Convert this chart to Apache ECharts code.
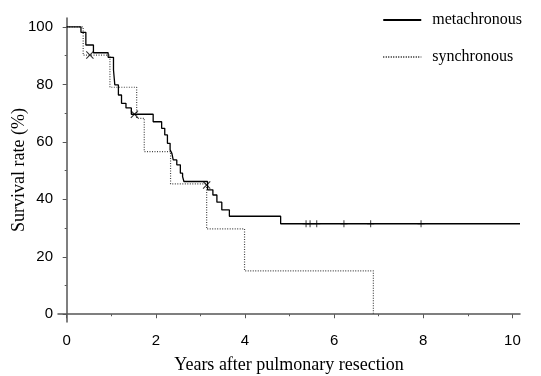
<!DOCTYPE html>
<html>
<head>
<meta charset="utf-8">
<script src="https://cdn.jsdelivr.net/npm/echarts@6/dist/echarts.min.js"></script>
<style>
  html, body { margin: 0; padding: 0; background: #fff; }
  #chartmain { width: 541px; height: 376px; }
</style>
</head>
<body>
<div id="chartmain"></div>
<script>
// metachronous group: time of each step (years) and survival after it (%)
var metaTimes = [0, 0.32, 0.43, 0.60, 0.93, 1.05, 1.08, 1.16, 1.23, 1.33, 1.45, 1.94, 2.13, 2.20, 2.26, 2.32, 2.36, 2.39, 2.47, 2.55, 2.60, 2.63, 3.16, 3.28, 3.37, 3.48, 3.65, 4.80, 10.17];
var metaSurv  = [100, 98.1, 93.7, 91.0, 89.4, 85.0, 79.8, 76.3, 73.4, 71.8, 69.6, 67.0, 64.7, 62.4, 59.5, 57.2, 56.0, 53.7, 52.0, 49.1, 47.9, 46.2, 43.3, 41.5, 39.0, 36.3, 34.1, 31.5, 31.5];

// synchronous group
var syncTimes = [0, 0.37, 0.97, 1.57, 1.74, 2.33, 3.14, 3.99, 6.88];
var syncSurv  = [100, 90.2, 79.0, 68.2, 56.6, 45.4, 29.7, 15.1, 0];

// censor marks
var crossT = [0.52, 1.52, 3.14];
var crossS = [90.2, 69.6, 45.0];
var plusT = [5.37, 5.46, 5.61, 6.22, 6.82, 7.95];
var plusS = [31.5, 31.5, 31.5, 31.5, 31.5, 31.5];

var xTicks = [0, 2, 4, 6, 8, 10];
var xMinor = [1, 3, 5, 7, 9];
var yTicks = [0, 20, 40, 60, 80, 100];
var yMinor = [10, 30, 50, 70, 90];

function pairs(a, b) {
	var out = [];
	for (var i = 0; i < a.length; i++) out.push([a[i], b[i]]);
	return out;
}

var X_PATH = 'path://M0,1L1,0L5,4L9,0L10,1L6,5L10,9L9,10L5,6L1,10L0,9L4,5Z';
var PLUS_PATH = 'path://M4.3,0H5.7V4.3H10V5.7H5.7V10H4.3V5.7H0V4.3H4.3Z';

var serif = "'Liberation Serif', 'DejaVu Serif', serif";
var narrow = "'Liberation Sans Narrow', 'Liberation Sans', sans-serif";
var axisCol = '#555';

var option = {
	animation : false,
	backgroundColor : '#fff',
	grid : {
		left : 58,
		right : 21,
		top : 18,
		bottom : 54,
		outerBoundsMode : 'none'
	},
	legend : {
		orient : 'vertical',
		right : 14,
		top : 7,
		itemWidth : 38,
		itemHeight : 14,
		itemGap : 21,
		itemStyle : { opacity : 0 },
		textStyle : {
			fontFamily : serif,
			fontSize : 16,
			color : '#000',
			padding : [0, 0, 0, 6]
		},
		data : ['metachronous', 'synchronous']
	},
	xAxis : [ {
		type : 'value',
		min : -0.195,
		max : 10.17,
		name : 'Years after pulmonary resection',
		nameLocation : 'middle',
		nameGap : 34,
		nameMoveOverlap : false,
		nameTextStyle : { fontFamily : serif, fontSize : 18, color : '#000' },
		splitLine : { show : false },
		axisLine : { lineStyle : { color : axisCol, width : 1.5 } },
		axisTick : { customValues : xTicks, length : 4, lineStyle : { color : axisCol } },
		axisLabel : { customValues : xTicks, margin : 11, fontFamily : narrow, fontSize : 15, color : '#000' }
	}, {
		type : 'value',
		min : -0.195,
		max : 10.17,
		position : 'bottom',
		splitLine : { show : false },
		axisLine : { show : false },
		axisTick : { customValues : xMinor, length : 2, lineStyle : { color : axisCol } },
		axisLabel : { show : false }
	} ],
	yAxis : [ {
		type : 'value',
		min : -2.7,
		max : 103.1,
		name : 'Survival rate (%)',
		nameLocation : 'middle',
		nameGap : 30,
		nameMoveOverlap : false,
		nameTextStyle : { fontFamily : serif, fontSize : 18, color : '#000' },
		splitLine : { show : false },
		axisLine : { show : true, lineStyle : { color : axisCol, width : 1.5 } },
		axisTick : { show : true, customValues : yTicks, length : 4, lineStyle : { color : axisCol } },
		axisLabel : { customValues : yTicks, margin : 5, fontFamily : narrow, fontSize : 15, color : '#000' }
	}, {
		type : 'value',
		min : -2.7,
		max : 103.1,
		position : 'left',
		splitLine : { show : false },
		axisLine : { show : false },
		axisTick : { show : true, customValues : yMinor, length : 2, lineStyle : { color : axisCol } },
		axisLabel : { show : false }
	} ],
	series : [ {
		name : 'metachronous',
		type : 'line',
		step : 'end',
		symbol : 'none',
		lineStyle : { color : '#000', width : 1.3 },
		itemStyle : { color : '#000' },
		data : pairs(metaTimes, metaSurv),
		z : 3
	}, {
		name : 'synchronous',
		type : 'line',
		step : 'end',
		symbol : 'none',
		lineStyle : { color : '#444', width : 1.2, type : [1, 1.5] },
		itemStyle : { color : '#444' },
		data : pairs(syncTimes, syncSurv),
		z : 2
	}, {
		type : 'scatter',
		symbol : X_PATH,
		symbolSize : 8,
		itemStyle : { color : '#000' },
		data : pairs(crossT, crossS),
		z : 4
	}, {
		type : 'scatter',
		symbol : PLUS_PATH,
		symbolSize : 7,
		itemStyle : { color : '#000' },
		data : pairs(plusT, plusS),
		z : 4
	} ]
};

var myChart = echarts.init(document.getElementById('chartmain'));
myChart.setOption(option);
</script>
</body>
</html>
